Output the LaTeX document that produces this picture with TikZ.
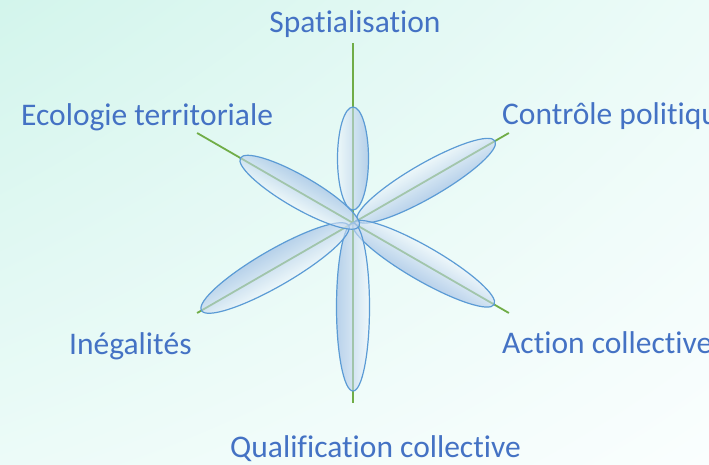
\documentclass[tikz,border=0pt]{standalone}
\usepackage{fontspec}
\setmainfont{Carlito}[Ligatures={NoCommon,NoContextual,NoRare}]
\usetikzlibrary{shadings}
\definecolor{bgA}{RGB}{211,245,236}
\definecolor{bgB}{RGB}{236,251,248}
\definecolor{bgC}{RGB}{236,251,248}
\definecolor{bgD}{RGB}{250,254,254}
\definecolor{axisgreen}{RGB}{112,173,71}
\definecolor{petaledge}{RGB}{91,155,213}
\definecolor{petallight}{RGB}{240,246,252}
\definecolor{petaldark}{RGB}{150,182,226}
\definecolor{labelblue}{RGB}{68,114,196}
\newcommand\nolig{\kern0pt }
\tikzset{
  axisline/.style={draw=axisgreen, line width=1.8pt},
  petalshape/.style={draw=petaledge, line width=1.2pt, top color=petallight, bottom color=petaldark, fill opacity=0.6},
  lbl/.style={inner sep=0pt, text=labelblue, font=\fontsize{31.5}{36}\selectfont}
}
\newcommand\drawpetal[4]{%
  \begin{scope}[transform canvas={shift={(353pt,241pt)}, rotate=#1}]
    \path[petalshape] ({(#2+#3)/2},0) ellipse [x radius={(#3-#2)/2}, y radius={#4/2}];
  \end{scope}}
\begin{document}
\begin{tikzpicture}[x=1pt,y=1pt]
\useasboundingbox (0,0) rectangle (709,464);
\shade[upper left=bgA, upper right=bgB, lower left=bgC, lower right=bgD] (0,0) rectangle (709,464);
\coordinate (C) at (353,241);
\foreach \a/\n in {90/t,30/ur,-30/lr,-90/b,210/ll,150/ul}{
  \path (C) ++(\a:180) coordinate (e\n);
}
\foreach \n in {t,ur,lr,b,ll,ul}{
  \draw[axisline] (C) -- (e\n);
}
\drawpetal{90}{13}{116}{31}
\drawpetal{30}{5}{164}{34}
\drawpetal{-30}{0}{163}{34}
\drawpetal{-90}{0}{168}{33}
\drawpetal{210}{5}{175}{36}
\drawpetal{150}{-7}{130}{32}
\node[lbl, anchor=base] (spat) at (355,431) {Spat\nolig ialisat\nolig ion};
\node[lbl, anchor=base west] (eco) at (21,338) {Ecologie territ\nolig oriale};
\node[lbl, anchor=base west] (ctrl) at (502,339) {Contrôle polit\nolig ique};
\node[lbl, anchor=base west] (ineg) at (69,110) {Inégalit\nolig és};
\node[lbl, anchor=base west] (act) at (502,111) {Act\nolig ion collect\nolig ive};
\node[lbl, anchor=base] (qual) at (375.5,7) {Qualif\nolig icat\nolig ion collect\nolig ive};
\end{tikzpicture}
\end{document}
